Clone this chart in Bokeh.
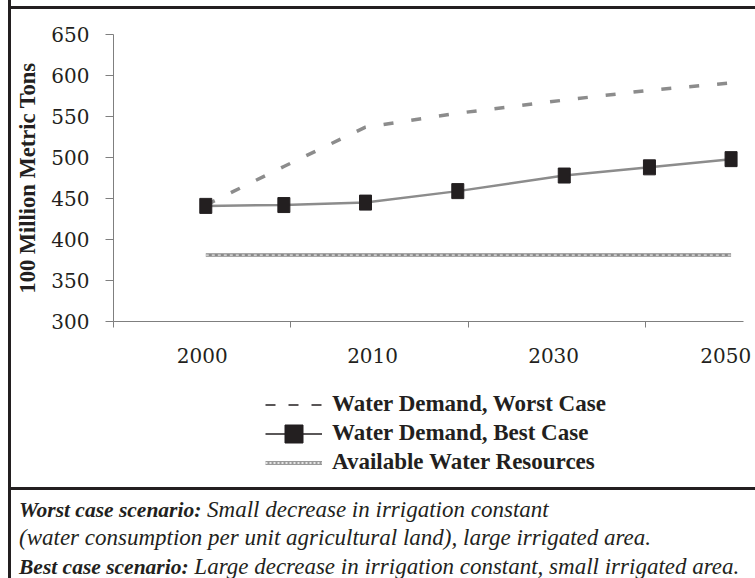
from bokeh.plotting import figure
from bokeh.layouts import row, column
from bokeh.models import (Range1d, FixedTicker, Legend, LegendItem,
                          ColumnDataSource, Div)
from bokeh.embed import file_html
from bokeh.resources import INLINE

# ---- data ----
years = [2000, 2005, 2010, 2020, 2030, 2040, 2050]
x_pos = [0.52, 0.96, 1.42, 1.94, 2.54, 3.02, 3.48]
worst_case = [442, 489, 537, 554, 570, 582, 591]
best_case = [441, 442, 445, 459, 478, 488, 498]
available = [381, 381, 381, 381, 381, 381, 381]
x_tick_labels = ["2000", "2010", "2030", "2050"]
x_label_pos = [0.5, 1.46, 2.48, 3.45]
x_boundaries = [0, 1, 2, 3]
y_ticks = [300, 350, 400, 450, 500, 550, 600, 650]

legend_labels = ["Water Demand, Worst Case", "Water Demand, Best Case",
                 "Available Water Resources"]
footer_bold = ["Worst case scenario:", "Best case scenario:"]
footer_rest = ["Small decrease in irrigation constant",
               "(water consumption per unit agricultural land), large irrigated area.",
               "Large decrease in irrigation constant, small irrigated area."]

INK = "#231f20"
GREY = "#8c8c8c"
W = 744  # width of the boxed content

# ---------------- main chart ----------------
p = figure(width=W, height=373, x_range=Range1d(0, 3.55), y_range=Range1d(300, 650),
           output_backend="svg", toolbar_location=None,
           min_border_left=102, min_border_right=12, min_border_top=25,
           min_border_bottom=61, background_fill_color="white",
           border_fill_color="white", margin=0)
p.xgrid.visible = False
p.ygrid.visible = False
p.outline_line_color = None

p.yaxis.ticker = FixedTicker(ticks=y_ticks)
p.yaxis.major_tick_out = 8
p.yaxis.major_tick_in = 0
p.yaxis.minor_tick_out = 0
p.yaxis.axis_line_color = "#7f7f7f"
p.yaxis.major_tick_line_color = "#7f7f7f"
p.yaxis.major_label_text_font = "DejaVu Serif"
p.yaxis.major_label_text_font_size = "20px"
p.yaxis.major_label_text_color = INK
p.yaxis.major_label_standoff = 16
p.yaxis.axis_label = "100 Million Metric Tons"
p.yaxis.axis_label_text_font = "Liberation Serif"
p.yaxis.axis_label_text_font_style = "bold"
p.yaxis.axis_label_text_font_size = "22.5px"
p.yaxis.axis_label_text_color = INK
p.yaxis.axis_label_standoff = 8

p.xaxis.ticker = FixedTicker(ticks=x_label_pos, minor_ticks=x_boundaries)
p.xaxis.major_label_overrides = {pos: lab for pos, lab in zip(x_label_pos, x_tick_labels)}
p.xaxis.major_tick_out = 0
p.xaxis.major_tick_in = 0
p.xaxis.minor_tick_out = 6
p.xaxis.minor_tick_in = 0
p.xaxis.axis_line_color = "#7f7f7f"
p.xaxis.minor_tick_line_color = "#7f7f7f"
p.xaxis.major_label_text_font = "DejaVu Serif"
p.xaxis.major_label_text_font_size = "20px"
p.xaxis.major_label_text_color = INK
p.xaxis.major_label_standoff = 20

p.line(x_pos, available, line_color="#8a8a8a", line_width=3.5)
p.line(x_pos, available, line_color="white", line_width=1, line_dash="3 3")
p.line(x_pos, worst_case, line_color=GREY, line_width=3.5, line_dash="10 18")
p.line(x_pos, best_case, line_color=GREY, line_width=2.5)
p.rect(x_pos, best_case, width=12, height=15, width_units="screen",
       height_units="screen", fill_color=INK, line_color=INK)

# ---------------- legend panel ----------------
# (its frame is aligned by the column with the chart frame: left edge at page x 113)
LH = 105
pl = figure(width=W, height=LH, x_range=Range1d(0, W), y_range=Range1d(0, LH),
            output_backend="svg", toolbar_location=None,
            x_axis_location=None, y_axis_location=None,
            min_border=0, outline_line_color=None, margin=0)
pl.xgrid.visible = False
pl.ygrid.visible = False
# proxy renderers (one point outside the visible range) styled like the legend keys
off = ColumnDataSource(data=dict(x=[-1000], y=[-1000]))
lg_worst = pl.line("x", "y", source=off, line_color=INK, line_width=1.3, line_dash="10 13")
lg_best_l = pl.line("x", "y", source=off, line_color=INK, line_width=1.3)
lg_best_m = pl.scatter("x", "y", source=off, marker="square", size=15,
                       fill_color=INK, line_color=INK)
lg_av1 = pl.line("x", "y", source=off, line_color="#9a9a9a", line_width=4)
lg_av2 = pl.line("x", "y", source=off, line_color="white", line_width=1.5, line_dash="2 2")

row_centers = [404 - 382, 433 - 382, 462 - 382]  # from the panel top
GH = 45
for label, rends, c in zip(legend_labels,
                           [[lg_worst], [lg_best_l, lg_best_m], [lg_av1, lg_av2]],
                           row_centers):
    lg = Legend(items=[LegendItem(label=label, renderers=rends)],
                location=(265 - 113, LH - c - GH / 2), padding=0, margin=0, spacing=0,
                glyph_width=57, glyph_height=GH, label_height=25, label_standoff=10,
                label_text_font="Liberation Serif", label_text_font_style="bold",
                label_text_font_size="23px", label_text_color=INK,
                border_line_color=None, background_fill_alpha=0)
    pl.add_layout(lg, "center")

# ---------------- footer text ----------------
footer_html = (
    '<div style="font-family:\'Liberation Serif\'; font-style:italic; font-size:23px; '
    'line-height:28.5px; color:%s; padding:5.5px 0 0 8px; white-space:nowrap;">'
    '<span style="font-weight:bold; font-size:21.5px;">%s</span> %s<br>%s<br>'
    '<span style="font-weight:bold; font-size:21.5px;">%s</span> %s</div>'
) % (INK, footer_bold[0], footer_rest[0], footer_rest[1], footer_bold[1], footer_rest[2])
footer = Div(text=footer_html, width=W, height=88, margin=0,
             styles={"overflow": "hidden"})


def bar(w, h, color):
    return Div(width=w, height=h, margin=0, styles={"background-color": color})


layout = row(
    bar(8, 578, "white"),
    bar(3, 578, INK),
    column(bar(W, 6, "white"), bar(W, 3, INK), p, pl, bar(W, 3, INK), footer,
           spacing=0, margin=0),
    spacing=0, margin=0)

open("out.html", "w").write(file_html(layout, INLINE))
